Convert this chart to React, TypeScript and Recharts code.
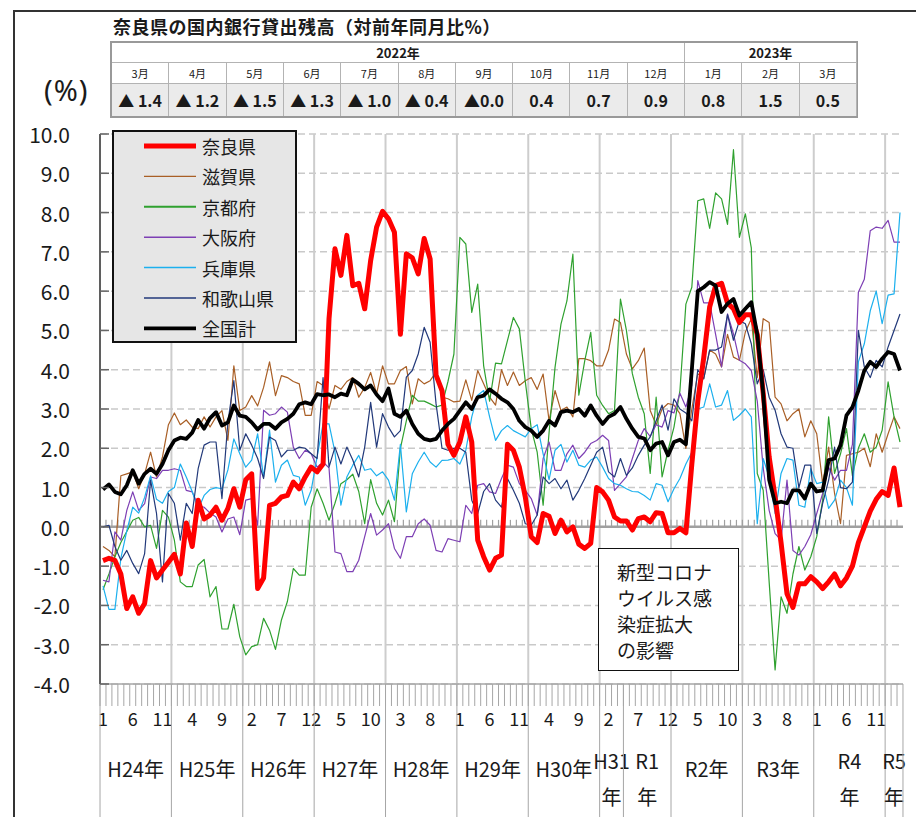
import React from "react";
import { LineChart, Line, XAxis, YAxis, CartesianGrid, ReferenceLine, Legend } from "recharts";

// ---- data (year-on-year %, monthly Jan 2012 - Mar 2023) ----
const YEARS = [2012, 2013, 2014, 2015, 2016, 2017, 2018, 2019, 2020, 2021, 2022, 2023];
const MONTHS = [1, 2, 3, 4, 5, 6, 7, 8, 9, 10, 11, 12];

const nara = [
  -0.86, -0.8, -0.85, -1.2, -2.08, -1.78, -2.2, -1.95, -0.86, -1.3, -1.1, -0.9,
  -0.7, -1.2, 0.1, -0.5, 0.68, 0.2, 0.3, 0.5, 0.17, 0.47, 0.97, 0.5,
  1.2, 1.35, -1.57, -1.3, 0.55, 0.6, 0.76, 0.8, 1.14, 0.97, 1.27, 1.52,
  1.4, 1.6, 5.3, 7.08, 6.4, 7.42, 6.14, 6.2, 5.55, 6.78, 7.63, 8.03,
  7.84, 7.5, 4.9, 6.95, 6.85, 6.44, 7.34, 6.82, 3.86, 3.47, 2.1, 1.82,
  2.16, 2.8, 2.16, -0.34, -0.76, -1.1, -0.8, -0.72, 2.1, 1.95, 1.52, 0.76,
  -0.25, -0.4, 0.34, 0.27, -0.17, 0.17, -0.13, 0.0, -0.44, -0.55, -0.42, 1.0,
  0.89, 0.68, 0.25, 0.15, 0.15, -0.08, 0.21, 0.25, 0.13, 0.36, 0.34, -0.15,
  -0.15, -0.04, -0.15, 1.6, 3.2, 4.3, 5.6, 6.14, 6.2, 5.7, 5.55, 5.2,
  5.4, 5.4, 4.9, 3.4, 1.78, 0.76, -0.4, -1.7, -2.05, -1.45, -1.45, -1.27,
  -1.4, -1.57, -1.4, -1.2, -1.5, -1.3, -1.0, -0.4, 0.0, 0.4, 0.7, 0.9,
  0.8, 1.5, 0.5,
];

const shiga = [
  -0.5, -0.6, -0.76, 1.3, 1.35, 1.4, 0.97, 1.35, 1.9, 1.27, 1.78, 2.6,
  2.9, 2.6, 2.72, 2.54, 2.5, 2.8, 2.54, 2.8, 2.96, 2.2, 4.1, 2.96,
  3.05, 3.34, 3.08, 3.55, 4.2, 3.34, 3.85, 3.8, 3.7, 3.64, 2.84, 2.84,
  3.7, 3.6, 3.0, 3.6, 3.5, 3.7, 3.8, 3.3, 3.55, 3.93, 3.39, 4.1,
  3.64, 3.64, 3.98, 4.08, 3.13, 3.77, 3.64, 3.72, 3.94, 3.3, 3.26, 3.18,
  3.2, 3.74, 3.22, 3.98, 3.64, 3.3, 3.1, 4.0, 3.6, 3.94, 3.6, 3.72,
  3.8, 3.5, 3.89, 2.7, 3.47, 2.96, 3.05, 2.8, 4.28, 4.28, 4.23, 4.1,
  4.1, 4.5, 5.29, 5.2, 4.4, 4.02, 4.23, 4.55, 2.96, 2.6, 3.0, 3.14,
  3.1, 2.88, 2.0, 3.0, 3.9, 3.77, 4.5, 4.4, 4.07, 4.9, 4.32, 4.24,
  4.96, 5.3, 3.8, 5.3, 5.2, 3.3, 3.13, 2.7, 2.88, 3.0, 2.29, 2.7,
  2.37, 1.1, 2.03, 0.85, 0.08, 1.82, 1.86, 1.9, 2.0, 1.53, 2.37, 1.9,
  2.37, 2.8, 2.5,
];

const kyoto = [
  -1.6, -1.2, -0.76, -0.4, -0.12, 0.17, 0.24, 0.0, 0.04, -0.55, 0.42, 0.25,
  -0.34, -1.4, -1.52, -1.52, -0.97, -0.83, -1.78, -1.52, -2.6, -2.6, -1.97, -2.8,
  -3.26, -3.05, -3.0, -2.33, -2.63, -3.12, -2.37, -1.9, -1.06, -1.23, -1.23, 0.5,
  0.97, 0.6, 0.17, 0.6, 1.1, 1.2, 1.34, 0.9, 0.08, 1.2, 0.6, 0.3,
  0.68, 0.13, 2.0, 2.7, 3.35, 3.2, 3.2, 3.13, 3.05, 3.1, 3.7, 4.4,
  7.37, 7.2, 5.46, 6.18, 4.1, 3.2, 4.17, 4.15, 4.74, 5.33, 5.04, 3.7,
  2.5, 1.9, 0.55, 2.4, 4.06, 5.16, 5.75, 6.94, 3.35, 4.23, 4.95, 3.35,
  3.09, 2.88, 2.96, 5.8, 5.0, 3.9, 3.3, 2.88, 1.36, 3.3, 1.27, 1.95,
  2.54, 3.47, 5.67, 6.1, 8.3, 8.35, 7.6, 8.5, 8.35, 7.7, 9.6, 7.37,
  7.97, 7.1, 1.36, 0.93, -1.4, -3.64, -1.78, -2.2, -1.2, -0.5, -1.1, -0.76,
  -0.25, 0.68, 2.8, 1.36, 1.86, 2.5, 1.3, 2.0, 2.37, 1.9, 2.03, 2.46,
  3.69, 2.8, 2.16,
];

const osaka = [
  -1.36, -1.4, -0.13, -0.34, 0.42, 0.89, 0.42, 0.59, 1.27, 1.23, 1.44, 1.44,
  1.48, 1.44, 0.93, 0.89, 0.55, 0.5, 0.35, 0.25, -0.13, 0.2, 0.25, -0.2,
  0.68, 0.72, 0.04, 2.97, 2.84, 2.88, 3.05, 2.92, 2.03, 1.74, 1.95, 1.86,
  1.52, 1.65, 1.5, -0.64, -0.68, -1.14, -1.14, -0.85, -0.25, 0.34, -0.21, -0.08,
  0.08, -0.55, -0.8, -0.25, -0.25, 0.08, 0.2, 0.04, -0.6, -0.64, -0.3, -0.34,
  -0.38, 0.55, 0.34, 1.06, 1.1, 0.89, 0.85, 1.23, 1.57, 1.52, 1.1, 0.93,
  0.72, 0.3, 1.74, 2.16, 1.44, 1.44, 1.86, 2.08, 1.74, 1.9, 2.12, 2.2,
  2.33, 2.2, 0.93, 1.1, 1.27, 1.74, 2.2, 2.5, 2.3, 2.6, 2.54, 2.96,
  2.9, 3.4, 3.05, 3.6, 6.27, 5.7, 5.7, 4.9, 4.07, 5.42, 4.91, 4.24,
  4.15, 3.98, 3.2, 1.5, 0.42, -0.17, -0.34, 1.19, -0.6, -0.72, -0.5, -0.2,
  0.34, 0.85, 1.52, 1.19, 1.44, 1.44, 2.1, 5.97, 6.3, 7.54, 7.63, 7.6,
  7.8, 7.25, 7.25,
];

const hyogo = [
  -1.5, -2.1, -2.1, -0.8, -0.1, 0.5, 0.35, 0.75, 1.3, 0.7, 0.6, 0.9,
  1.0, 1.6, 1.27, 0.9, 0.45, 0.8, 0.95, 1.0, 0.97, 1.45, 2.24, 1.86,
  1.52, 1.7, 2.37, 1.27, 2.46, 1.14, 1.57, 1.7, 1.31, 1.27, 0.55, 0.93,
  1.78, 2.63, 2.62, 1.9, 0.55, 1.27, 1.57, 1.82, 1.44, 1.48, 1.3, 1.4,
  1.19, 0.68, 2.1, 0.38, 1.35, 1.65, 1.9, 1.65, 1.52, 1.69, 1.7, 1.74,
  1.6, 1.95, 2.8, 3.35, 3.47, 2.8, 2.2, 2.45, 2.58, 2.45, 2.37, 2.29,
  2.5, 2.6, 1.86, 1.2, 1.95, 2.1, 1.65, 1.95, 1.57, 1.52, 1.7, 1.78,
  1.52, 1.23, 1.1, 1.06, 0.97, 0.9, 0.89, 0.8, 0.68, 1.1, 1.06, 0.64,
  0.97, 1.23, 1.6, 1.9, 3.0, 3.05, 3.64, 3.05, 3.1, 3.47, 2.71, 2.84,
  3.0, 2.8, 0.08, 1.74, 1.27, 0.34, 1.36, 1.74, 1.7, 0.55, 0.5, 1.48,
  1.1, 1.14, 0.47, 0.68, 1.19, 1.0, 0.55, 4.2, 4.66, 5.5, 6.0, 5.17,
  5.9, 5.93, 8.0,
];

const wakayama = [
  0.0, 0.04, -0.5, -0.85, -0.6, -0.93, -1.19, -0.68, 1.19, 0.34, -1.4, 0.85,
  0.6, -0.34, 0.6, 0.34, 1.48, 2.08, 2.16, 2.16, 0.72, 2.67, 3.72, 1.95,
  2.37, 2.08, 1.74, 1.23, 2.29, 2.2, 1.78, 1.95, 1.95, 2.03, 2.0, 1.86,
  1.74, 3.8, 1.52, 2.03, 1.6, 2.03, 1.7, 1.27, 2.03, 3.17, 2.03, 2.88,
  2.54, 2.29, 2.45, 3.81, 3.98, 4.4, 5.08, 4.7, 3.13, 2.0, 1.95, 2.0,
  2.0, 1.9, 0.68, 0.34, 0.9, 1.1, 0.68, 0.5, 1.23, 0.93, 0.6, 0.08,
  0.04, 0.3, 1.27, 1.1, 1.23, 0.97, 1.19, 0.68, 0.93, 1.23, 1.57, 1.9,
  2.03, 1.4, 1.27, 1.74, 1.31, 1.5, 1.82, 2.08, 2.29, 2.7, 3.1, 2.46,
  3.26, 3.0, 2.9, 2.7, 4.0, 3.77, 4.5, 4.5, 4.58, 5.4, 4.75, 5.25,
  5.17, 4.66, 3.64, 4.0, 3.3, 2.97, 2.37, 2.03, 2.0, 1.0, 1.57, 1.57,
  -0.17, 0.6, 1.19, 2.03, 1.0, 0.97, 1.14, 5.0, 4.07, 3.8, 4.24, 4.07,
  4.58, 5.0, 5.42,
];

const zenkoku = [
  0.95, 1.08, 0.89, 0.83, 1.06, 1.44, 1.1, 1.35, 1.48, 1.35, 1.6, 1.95,
  2.2, 2.27, 2.24, 2.4, 2.72, 2.5, 2.77, 2.92, 2.58, 2.66, 3.09, 2.83,
  2.8, 2.66, 2.48, 2.62, 2.62, 2.5, 2.66, 2.75, 2.88, 3.12, 3.17, 3.12,
  3.38, 3.35, 3.37, 3.3, 3.39, 3.35, 3.75, 3.64, 3.5, 3.6, 3.37, 3.2,
  3.52, 2.88, 2.8, 2.96, 2.62, 2.37, 2.24, 2.2, 2.24, 2.45, 2.62, 2.75,
  2.96, 3.17, 3.0, 3.3, 3.34, 3.5, 3.39, 3.26, 3.17, 3.0, 2.7, 2.54,
  2.45, 2.29, 2.45, 2.7, 2.58, 2.92, 2.96, 2.92, 3.0, 2.83, 3.09, 2.83,
  2.62, 2.8, 2.88, 3.05, 2.75, 2.5, 2.29, 2.25, 1.95, 2.12, 2.16, 1.82,
  2.16, 2.22, 2.1, 4.0, 6.0, 6.1, 6.23, 6.14, 5.47, 5.68, 5.8, 5.38,
  5.55, 5.72, 4.9, 3.4, 1.2, 0.6, 0.64, 0.6, 0.93, 0.93, 0.72, 1.1,
  0.9, 0.93, 1.7, 1.74, 2.08, 2.84, 3.05, 3.47, 3.98, 4.2, 4.07, 4.28,
  4.45, 4.4, 3.98,
];

// era labels on the bottom axis, keyed by their first month
const ERAS = [
  { label: ["H24年"], from: "2012/1" },
  { label: ["H25年"], from: "2013/1" },
  { label: ["H26年"], from: "2014/1" },
  { label: ["H27年"], from: "2015/1" },
  { label: ["H28年"], from: "2016/1" },
  { label: ["H29年"], from: "2017/1" },
  { label: ["H30年"], from: "2018/1" },
  { label: ["H31", "年"], from: "2019/1" },
  { label: ["R1", "年"], from: "2019/5" },
  { label: ["R2年"], from: "2020/1" },
  { label: ["R3年"], from: "2021/1" },
  { label: ["R4", "年"], from: "2022/1" },
  { label: ["R5", "年"], from: "2023/1" },
];

const Y_TICKS = [-4, -3, -2, -1, 0, 1, 2, 3, 4, 5, 6, 7, 8, 9, 10];

// latest table
const TABLE_YEARS = [
  { label: "2022年", span: 10 },
  { label: "2023年", span: 3 },
];
const TABLE_MONTHS = ["3月", "4月", "5月", "6月", "7月", "8月", "9月", "10月", "11月", "12月", "1月", "2月", "3月"];
const TABLE_VALUES = ["▲ 1.4", "▲ 1.2", "▲ 1.5", "▲ 1.3", "▲ 1.0", "▲ 0.4", "▲0.0", "0.4", "0.7", "0.9", "0.8", "1.5", "0.5"];

const SERIES = [
  { key: "nara", name: "奈良県", color: "#ff0000", width: 5, legendWidth: 5 },
  { key: "shiga", name: "滋賀県", color: "#a95f26", width: 1.2, legendWidth: 1.2 },
  { key: "kyoto", name: "京都府", color: "#2fa12f", width: 1.2, legendWidth: 2 },
  { key: "osaka", name: "大阪府", color: "#7d3fb4", width: 1.2, legendWidth: 1.5 },
  { key: "hyogo", name: "兵庫県", color: "#1cb0ee", width: 1.2, legendWidth: 1.5 },
  { key: "wakayama", name: "和歌山県", color: "#22397a", width: 1.2, legendWidth: 1.5 },
  { key: "zenkoku", name: "全国計", color: "#000000", width: 3.8, legendWidth: 3.8 },
];

// build the rows recharts needs
const rows: any[] = [];
YEARS.forEach((y) =>
  MONTHS.forEach((m) => {
    const i = rows.length;
    if (i >= nara.length) return;
    rows.push({
      key: `${y}/${m}`,
      m,
      nara: nara[i],
      shiga: shiga[i],
      kyoto: kyoto[i],
      osaka: osaka[i],
      hyogo: hyogo[i],
      wakayama: wakayama[i],
      zenkoku: zenkoku[i],
    });
  })
);
const eraStarts = ERAS.map((e) => rows.findIndex((r) => r.key === e.from));

// ---- layout ----
const W = 916;
const H = 817;
const PLOT_LEFT = 100;
const PLOT_RIGHT = 903;
const PLOT_TOP = 134;
const PLOT_BOTTOM = 684;
const Y_AXIS_W = 70;
const X_PAD = 3;
const STEP = (PLOT_RIGHT - PLOT_LEFT - 2 * X_PAD) / (rows.length - 1);
const FONT = "'Noto Sans CJK JP', 'Noto Sans', sans-serif";
const TXT = "#1a1a1a";
const AXIS_GRAY = "#a6a6a6";

function MonthTick(props: any) {
  const { x, y, index } = props;
  const row = rows[index];
  if (!row) return null;
  const left = x - STEP / 2;
  const e = eraStarts.indexOf(index);
  let era = null;
  if (e >= 0) {
    const end = e + 1 < eraStarts.length ? eraStarts[e + 1] : rows.length;
    const cx = x + ((end - index - 1) * STEP) / 2;
    const lines = ERAS[e].label;
    era = (
      <g>
        <line x1={left} x2={left} y1={y} y2={H} stroke={AXIS_GRAY} strokeWidth={1} />
        {lines.map((t, k) => (
          <text
            key={k}
            x={cx}
            y={lines.length === 1 ? y + 84 : y + 76 + k * 36}
            textAnchor="middle"
            dominantBaseline="central"
            fontSize={20}
            fill={TXT}
          >
            {t}
          </text>
        ))}
      </g>
    );
  }
  return (
    <g>
      <line x1={left} x2={left} y1={y} y2={y + 22} stroke={AXIS_GRAY} strokeWidth={1} />
      {index === rows.length - 1 && (
        <line x1={x + STEP / 2} x2={x + STEP / 2} y1={y} y2={H} stroke={AXIS_GRAY} strokeWidth={1} />
      )}
      {index % 5 === 0 && (
        <text x={x} y={y + 34} textAnchor="middle" dominantBaseline="central" fontSize={18} fill={TXT}>
          {row.m}
        </text>
      )}
      {era}
    </g>
  );
}

function ValueTick(props: any) {
  const { x, y, payload } = props;
  return (
    <g>
      <line x1={PLOT_LEFT} x2={PLOT_LEFT + 9} y1={y} y2={y} stroke="#666" strokeWidth={1.5} />
      <text x={x} y={y} textAnchor="end" dominantBaseline="central" fontSize={21} fill={TXT}>
        {Number(payload.value).toFixed(1)}
      </text>
    </g>
  );
}

function ZeroLine(props: any) {
  const { x1, x2, y1 } = props;
  const step = (x2 - x1 - 2 * X_PAD) / (rows.length - 1);
  return (
    <g>
      <line x1={x1} x2={x2} y1={y1} y2={y1} stroke="#a0a0a0" strokeWidth={2.5} />
      {rows.map((r, k) => {
        const xx = x1 + X_PAD + (k - 0.5) * step;
        return <line key={r.key} x1={xx} x2={xx} y1={y1 - 7} y2={y1} stroke="#a0a0a0" strokeWidth={1.2} />;
      })}
    </g>
  );
}

// x position of category i from the axis scale (falls back to the plot offset)
function catX(xAxis: any, offset: any, i: number, key: string): number {
  const sc = xAxis && xAxis.scale;
  let v: any;
  if (typeof sc === "function") v = sc(key) ?? sc(i);
  else if (sc && typeof sc.map === "function") v = sc.map(key) ?? sc.map(i);
  if (typeof v === "number" && !Number.isNaN(v)) return v;
  const left = offset ? offset.left : PLOT_LEFT;
  const width = offset ? offset.width : PLOT_RIGHT - PLOT_LEFT;
  return left + X_PAD + (i * (width - 2 * X_PAD)) / (rows.length - 1);
}

function yearGrid({ xAxis, offset }: any) {
  const out: number[] = [];
  rows.forEach((r, i) => {
    if (r.m !== 1 || i === 0) return;
    out.push(catX(xAxis, offset, i, r.key) - STEP / 2);
  });
  return out;
}

function LegendBox() {
  return (
    <div
      style={{
        width: 185,
        height: 213,
        boxSizing: "border-box",
        border: "2px solid #111",
        background: "#e6e6e6",
        fontFamily: FONT,
      }}
    >
      <svg width={181} height={209}>
        {SERIES.map((s, k) => {
          const cy = 14 + k * 30.4;
          return (
            <g key={s.key}>
              <line x1={30} x2={82} y1={cy} y2={cy} stroke={s.color} strokeWidth={s.legendWidth} />
              <text x={88} y={cy} dominantBaseline="central" fontSize={18} fill={TXT}>
                {s.name}
              </text>
            </g>
          );
        })}
      </svg>
    </div>
  );
}

const cellBase: React.CSSProperties = {
  borderRight: "1px solid #b3b3b3",
  borderBottom: "1px solid #b3b3b3",
  display: "flex",
  alignItems: "center",
  justifyContent: "center",
  color: TXT,
  boxSizing: "border-box",
};

export default function App() {
  const thin = SERIES.filter((s) => s.key !== "nara" && s.key !== "zenkoku");
  const nr = SERIES[0];
  const zk = SERIES[SERIES.length - 1];
  return (
    <div
      style={{
        position: "absolute",
        left: 0,
        top: 0,
        width: W,
        height: H,
        overflow: "hidden",
        background: "#fff",
        fontFamily: FONT,
      }}
    >
      <LineChart
        width={W}
        height={H}
        data={rows}
        margin={{ top: PLOT_TOP, right: W - PLOT_RIGHT, bottom: 0, left: PLOT_LEFT - Y_AXIS_W }}
      >
        <CartesianGrid vertical={false} stroke="#c9c9c9" strokeDasharray="7 4" strokeWidth={1.5} />
        <CartesianGrid horizontal={false} stroke="#cdcdcd" strokeWidth={2} verticalCoordinatesGenerator={yearGrid} />
        <XAxis
          dataKey="key"
          type="category"
          interval={0}
          height={H - PLOT_BOTTOM}
          padding={{ left: X_PAD, right: X_PAD }}
          tickSize={0}
          tickMargin={0}
          tickLine={false}
          axisLine={{ stroke: AXIS_GRAY, strokeWidth: 1.5 }}
          tick={<MonthTick />}
        />
        <YAxis
          type="number"
          domain={[-4, 10]}
          ticks={Y_TICKS}
          interval={0}
          allowDataOverflow
          width={Y_AXIS_W}
          tickSize={0}
          tickMargin={30}
          tickLine={false}
          axisLine={{ stroke: "#5f5f5f", strokeWidth: 2 }}
          tick={<ValueTick />}
        />
        <ReferenceLine y={0} shape={<ZeroLine />} />
        {thin.map((s) => (
          <Line
            key={s.key}
            dataKey={s.key}
            name={s.name}
            stroke={s.color}
            strokeWidth={s.width}
            strokeLinejoin="round"
            dot={false}
            activeDot={false}
            isAnimationActive={false}
          />
        ))}
        <Line
          dataKey={nr.key}
          name={nr.name}
          stroke={nr.color}
          strokeWidth={nr.width}
          strokeLinejoin="round"
          dot={false}
          activeDot={false}
          isAnimationActive={false}
        />
        <Line
          dataKey={zk.key}
          name={zk.name}
          stroke={zk.color}
          strokeWidth={zk.width}
          strokeLinejoin="round"
          dot={false}
          activeDot={false}
          isAnimationActive={false}
        />
        <Legend
          layout="horizontal"
          verticalAlign="middle"
          align="center"
          wrapperStyle={{ position: "absolute", left: 112, top: 130, width: 185, height: 213 }}
          content={() => <LegendBox />}
        />
      </LineChart>

      {/* outer frame */}
      <div
        style={{
          position: "absolute",
          left: 13,
          top: 10,
          width: W,
          height: H,
          borderLeft: "2px solid #333",
          borderTop: "2px solid #333",
          pointerEvents: "none",
        }}
      />

      {/* title */}
      <div style={{ position: "absolute", left: 113, top: 13, fontSize: 18, fontWeight: 700, color: TXT, whiteSpace: "nowrap", letterSpacing: 0.5 }}>
        奈良県の国内銀行貸出残高（対前年同月比%）
      </div>

      {/* latest values table */}
      <div
        style={{
          position: "absolute",
          left: 110,
          top: 41,
          width: 748,
          height: 77,
          boxSizing: "border-box",
          border: "2px solid #999",
          borderRightWidth: 1,
          display: "grid",
          gridTemplateColumns: "repeat(13, 1fr)",
          gridTemplateRows: "20px 21px 1fr",
        }}
      >
        {TABLE_YEARS.map((y) => (
          <div key={y.label} style={{ ...cellBase, gridColumn: `span ${y.span}`, fontSize: 13, fontWeight: 700 }}>
            {y.label}
          </div>
        ))}
        {TABLE_MONTHS.map((m, k) => (
          <div key={"m" + k} style={{ ...cellBase, fontSize: 11 }}>
            {m}
          </div>
        ))}
        {TABLE_VALUES.map((v, k) => (
          <div key={"v" + k} style={{ ...cellBase, borderBottom: "none", background: "#ebebeb", fontSize: 16, fontWeight: 700 }}>
            {v}
          </div>
        ))}
      </div>

      {/* unit */}
      <div style={{ position: "absolute", left: 44, top: 70, fontSize: 29, color: TXT, letterSpacing: 1, fontFamily: "'Noto Sans', sans-serif" }}>
        (%)
      </div>

      {/* annotation */}
      <div
        style={{
          position: "absolute",
          left: 598,
          top: 548,
          width: 141,
          height: 123,
          boxSizing: "border-box",
          border: "1.5px solid #111",
          background: "#fff",
          padding: "10px 0 0 18px",
          fontSize: 19,
          lineHeight: "26px",
          color: TXT,
        }}
      >
        <div>新型コロナ</div>
        <div>ウイルス感</div>
        <div>染症拡大</div>
        <div>の影響</div>
      </div>
    </div>
  );
}
